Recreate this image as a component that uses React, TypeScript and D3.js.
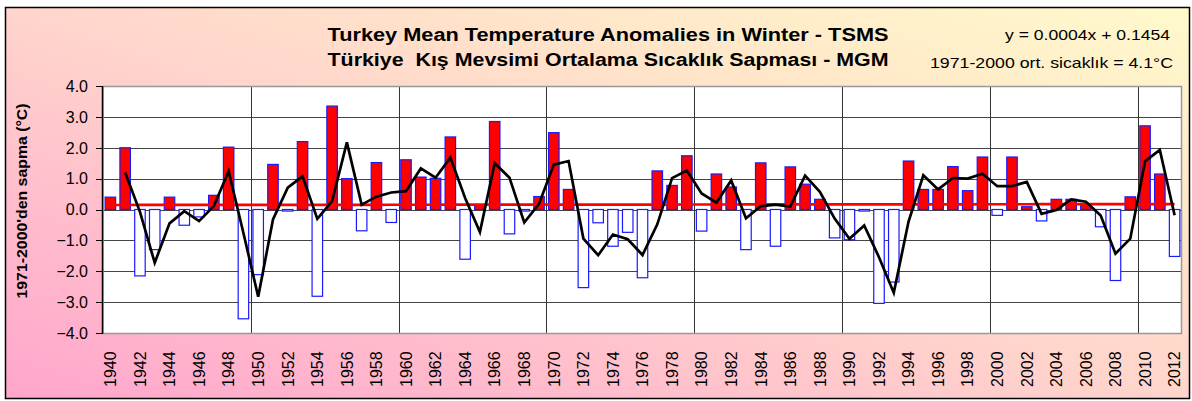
import React from "react";
import * as d3 from "d3";

// winter mean temperature anomalies (deg C, relative to 1971-2000)
const years = d3.range(1940, 2013);
const anomalies = [
  0.4, 2.0, -2.15, -1.3, 0.4, -0.51, -0.24, 0.46, 2.02, -3.54,
  -2.11, 1.46, -0.05, 2.2, -2.81, 3.35, 1.0, -0.69, 1.52, -0.42,
  1.61, 1.05, 1.01, 2.35, -1.61, 0.15, 2.85, -0.79, -0.05, 0.42,
  2.49, 0.65, -2.53, -0.43, -1.19, -0.74, -2.21, 1.25, 0.78, 1.74,
  -0.7, 1.15, 0.73, -1.3, 1.51, -1.19, 1.38, 0.82, 0.33, -0.92,
  -0.98, -0.05, -3.04, -2.35, 1.57, 0.65, 0.65, 1.39, 0.61, 1.7,
  -0.19, 1.7, 0.09, -0.37, 0.33, 0.33, 0.17, -0.56, -2.3, 0.41,
  2.71, 1.15, -1.52,
];
const yTicks = [4, 3, 2, 1, 0, -1, -2, -3, -4];
const xLabelYears = years.filter((y) => y % 2 === 0);
const decadeYears = [1950, 1960, 1970, 1980, 1990, 2000, 2010];
// linear trend from the source: y = 0.0004x + 0.1454 (x = 1..n)
const trendSlope = 0.0004;
const trendIntercept = 0.1454;

export default function App() {
  let width = 1192;
  let height = 401;
  let plot = { left: 103, right: 1182, top: 86, bottom: 333 };

  let x = d3.scaleBand().domain(years.map(String)).range([plot.left, plot.right]);
  let y = d3.scaleLinear().domain([-4, 4]).range([plot.bottom, plot.top]);
  let step = x.bandwidth();
  let barW = step * 0.71;
  let cx = (yr) => x(String(yr)) + step / 2;

  // 2 period moving average (like the excel trendline)
  let ma = years.slice(1).map((yr, i) => ({ yr, v: (anomalies[i] + anomalies[i + 1]) / 2 }));
  let maLine = d3.line().x((d) => cx(d.yr)).y((d) => y(d.v));

  let trend = years.map((yr, i) => ({ yr, v: trendSlope * (i + 1) + trendIntercept }));
  let trendLine = d3.line().x((d) => cx(d.yr)).y((d) => y(d.v));

  const font = "'Liberation Sans', Arial, sans-serif";

  return (
    <svg width={width} height={height} style={{ position: "absolute", left: 0, top: 0 }} fontFamily={font}>
      <defs>
        <linearGradient id="bg" x1="0" y1="1" x2="1" y2="0">
          <stop offset="0%" stopColor="#ffa6cc" />
          <stop offset="25%" stopColor="#ffbccc" />
          <stop offset="50%" stopColor="#ffd5cc" />
          <stop offset="75%" stopColor="#ffe8c9" />
          <stop offset="100%" stopColor="#fffacc" />
        </linearGradient>
      </defs>
      <rect x={5.5} y={7.5} width={1184} height={391} fill="url(#bg)" stroke="#000" strokeWidth={1.5} />

      {/* titles */}
      <text x={608} y={41} textAnchor="middle" fontSize={18} fontWeight="bold" textLength={561} lengthAdjust="spacingAndGlyphs">
        Turkey Mean Temperature Anomalies in Winter - TSMS
      </text>
      <text x={608} y={66} textAnchor="middle" fontSize={18} fontWeight="bold" textLength={561} lengthAdjust="spacingAndGlyphs" style={{ whiteSpace: "pre" }}>
        {"Türkiye  Kış Mevsimi Ortalama Sıcaklık Sapması - MGM"}
      </text>
      <text x={1005} y={40} fontSize={15} textLength={165} lengthAdjust="spacingAndGlyphs">
        y = 0.0004x + 0.1454
      </text>
      <text x={930} y={68} fontSize={15} textLength={243} lengthAdjust="spacingAndGlyphs">
        1971-2000 ort. sicaklık = 4.1°C
      </text>

      {/* plot area */}
      <rect x={plot.left} y={plot.top} width={plot.right - plot.left} height={plot.bottom - plot.top} fill="#fff" />
      {yTicks.map((t) => (
        <line key={"h" + t} x1={plot.left} x2={plot.right} y1={Math.round(y(t)) + 0.5} y2={Math.round(y(t)) + 0.5} stroke="#444" strokeWidth={1} />
      ))}
      {decadeYears.map((yr) => (
        <line key={"v" + yr} x1={Math.round(x(String(yr))) + 0.5} x2={Math.round(x(String(yr))) + 0.5} y1={plot.top} y2={plot.bottom} stroke="#333" strokeWidth={1} />
      ))}
      <rect x={plot.left} y={plot.top + 0.5} width={plot.right - plot.left - 0.5} height={plot.bottom - plot.top} fill="none" stroke="#999" strokeWidth={1.5} />

      {/* bars */}
      {years.map((yr, i) => {
        let v = anomalies[i];
        let y0 = y(0);
        let y1 = y(v);
        return (
          <rect
            key={yr}
            x={cx(yr) - barW / 2}
            y={Math.min(y0, y1)}
            width={barW}
            height={Math.abs(y1 - y0)}
            fill={v > 0 ? "#ff0000" : "#ffffff"}
            stroke="#1a1aff"
            strokeWidth={1.2}
          />
        );
      })}

      <path d={trendLine(trend)} fill="none" stroke="#ff0000" strokeWidth={2.7} />
      <path d={maLine(ma)} fill="none" stroke="#000" strokeWidth={2.7} strokeLinejoin="miter" />

      {/* y axis */}
      <line x1={plot.left - 0.5} x2={plot.left - 0.5} y1={plot.top} y2={plot.bottom + 1} stroke="#000" strokeWidth={1.5} />
      {yTicks.map((t) => (
        <g key={"t" + t}>
          <line x1={plot.left - 7} x2={plot.left} y1={Math.round(y(t)) + 0.5} y2={Math.round(y(t)) + 0.5} stroke="#000" />
          <text x={88} y={y(t)} dy="0.36em" textAnchor="end" fontSize={16}>
            {d3.format(".1f")(t)}
          </text>
        </g>
      ))}
      <text transform="translate(22,201) rotate(-90)" dy="0.36em" textAnchor="middle" fontSize={15} fontWeight="bold" textLength={195} lengthAdjust="spacingAndGlyphs">
        1971-2000'den sapma (°C)
      </text>

      {/* x labels */}
      {xLabelYears.map((yr) => (
        <text key={"x" + yr} transform={`translate(${cx(yr)},387) rotate(-90)`} dy="0.36em" fontSize={16}>
          {yr}
        </text>
      ))}
    </svg>
  );
}
